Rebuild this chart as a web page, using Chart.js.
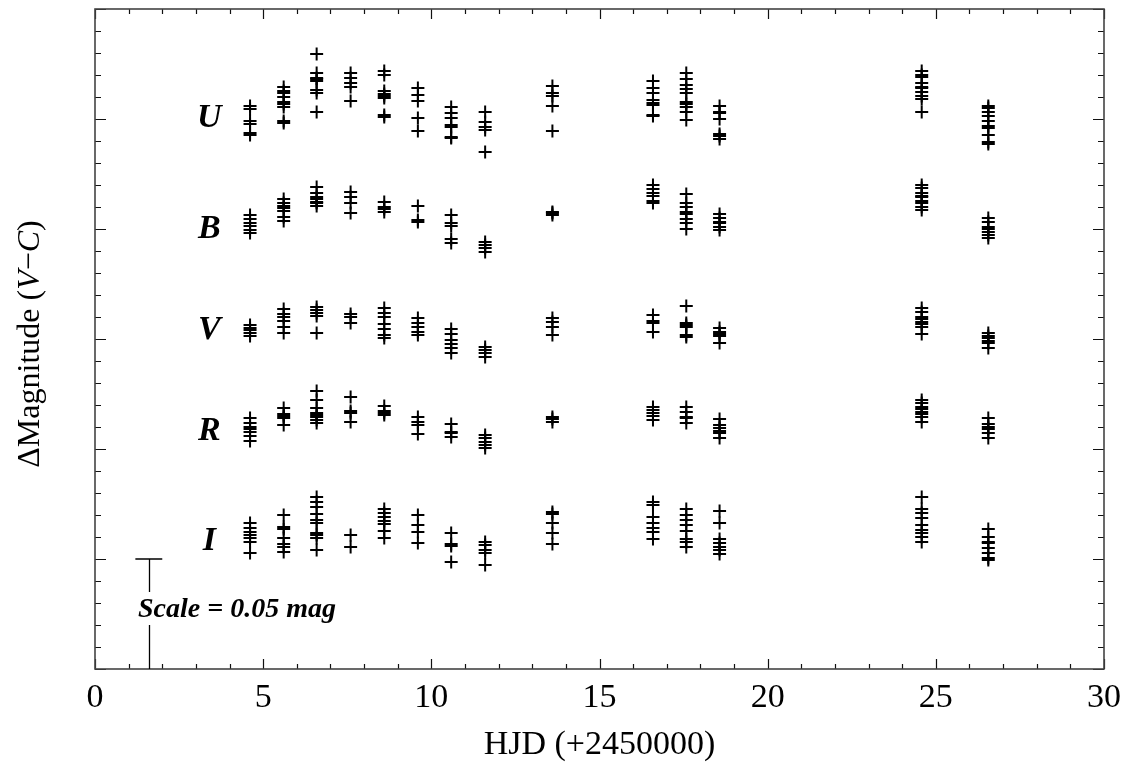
<!DOCTYPE html>
<html>
<head>
<meta charset="utf-8">
<script src="https://cdn.jsdelivr.net/npm/chart.js@4.4.1/dist/chart.umd.min.js"></script>
<style>
html, body { margin: 0; padding: 0; background: #fff; }
#wrap { width: 1126px; height: 765px; }
</style>
</head>
<body>
<div id="wrap"><canvas id="lc"></canvas></div>
<script>
// HJD - 2450000 of each observing night
const nights = [4.61, 5.61, 6.59, 7.60, 8.60, 9.60, 10.59, 11.60, 13.60, 16.59, 17.58, 18.57, 24.58, 26.56];

// plotted differential magnitudes (bands offset for clarity), one list per night
const magU = [
  [0.0441, 0.0455, 0.0509, 0.0523, 0.0564, 0.0573],
  [0.0355, 0.0373, 0.0382, 0.0400, 0.0423, 0.0432, 0.0445, 0.0509, 0.0518],
  [0.0205, 0.0291, 0.0314, 0.0318, 0.0327, 0.0368, 0.0382, 0.0468],
  [0.0291, 0.0314, 0.0336, 0.0355, 0.0418],
  [0.0282, 0.0300, 0.0373, 0.0386, 0.0395, 0.0405, 0.0482, 0.0491],
  [0.0359, 0.0391, 0.0418, 0.0495, 0.0555],
  [0.0445, 0.0473, 0.0495, 0.0527, 0.0536, 0.0582, 0.0586],
  [0.0468, 0.0514, 0.0536, 0.0550, 0.0650],
  [0.0350, 0.0382, 0.0395, 0.0441, 0.0555],
  [0.0327, 0.0359, 0.0382, 0.0414, 0.0427, 0.0436, 0.0482, 0.0486],
  [0.0291, 0.0318, 0.0345, 0.0364, 0.0382, 0.0423, 0.0432, 0.0445, 0.0468, 0.0505],
  [0.0441, 0.0468, 0.0473, 0.0500, 0.0568, 0.0577, 0.0591],
  [0.0282, 0.0300, 0.0309, 0.0336, 0.0355, 0.0359, 0.0377, 0.0395, 0.0409, 0.0468],
  [0.0441, 0.0450, 0.0468, 0.0486, 0.0509, 0.0532, 0.0541, 0.0573, 0.0605, 0.0614]
];
const magB = [
  [0.0936, 0.0955, 0.0973, 0.0986, 0.1005, 0.1018],
  [0.0864, 0.0882, 0.0895, 0.0905, 0.0918, 0.0945, 0.0964],
  [0.0809, 0.0836, 0.0855, 0.0864, 0.0877, 0.0882, 0.0895],
  [0.0832, 0.0855, 0.0882, 0.0927],
  [0.0877, 0.0900, 0.0909, 0.0923],
  [0.0895, 0.0959, 0.0968],
  [0.0936, 0.0973, 0.0986, 0.1045, 0.1064],
  [0.1059, 0.1073, 0.1086, 0.1105],
  [0.0923, 0.0927, 0.0936],
  [0.0800, 0.0818, 0.0836, 0.0850, 0.0873, 0.0882],
  [0.0841, 0.0882, 0.0900, 0.0923, 0.0932, 0.0955, 0.0973, 0.1000],
  [0.0932, 0.0950, 0.0968, 0.0973, 0.0991, 0.1005],
  [0.0800, 0.0814, 0.0836, 0.0850, 0.0855, 0.0873, 0.0882, 0.0900, 0.0914],
  [0.0950, 0.0968, 0.0991, 0.1000, 0.1014, 0.1027, 0.1041]
];
const magV = [
  [0.1436, 0.1450, 0.1459, 0.1473, 0.1486],
  [0.1364, 0.1386, 0.1400, 0.1418, 0.1445, 0.1473],
  [0.1355, 0.1368, 0.1382, 0.1395, 0.1473],
  [0.1386, 0.1400, 0.1427],
  [0.1359, 0.1382, 0.1400, 0.1432, 0.1455, 0.1482, 0.1495],
  [0.1405, 0.1427, 0.1445, 0.1468, 0.1482],
  [0.1455, 0.1477, 0.1505, 0.1523, 0.1541, 0.1564],
  [0.1536, 0.1550, 0.1564, 0.1582],
  [0.1405, 0.1423, 0.1445, 0.1482],
  [0.1391, 0.1418, 0.1427, 0.1468],
  [0.1350, 0.1427, 0.1436, 0.1445, 0.1482, 0.1491],
  [0.1450, 0.1468, 0.1477, 0.1486, 0.1518],
  [0.1359, 0.1377, 0.1400, 0.1409, 0.1423, 0.1432, 0.1445, 0.1477],
  [0.1473, 0.1486, 0.1495, 0.1509, 0.1518, 0.1541]
];
const magR = [
  [0.1859, 0.1882, 0.1900, 0.1909, 0.1923, 0.1941, 0.1964],
  [0.1814, 0.1841, 0.1850, 0.1859, 0.1891],
  [0.1736, 0.1777, 0.1814, 0.1836, 0.1845, 0.1855, 0.1868, 0.1882],
  [0.1764, 0.1827, 0.1836, 0.1877],
  [0.1805, 0.1827, 0.1836, 0.1845],
  [0.1855, 0.1877, 0.1891, 0.1932],
  [0.1886, 0.1923, 0.1927, 0.1945],
  [0.1936, 0.1950, 0.1968, 0.1982, 0.1995],
  [0.1855, 0.1864, 0.1877],
  [0.1809, 0.1823, 0.1836, 0.1850, 0.1868],
  [0.1809, 0.1832, 0.1855, 0.1859, 0.1882],
  [0.1864, 0.1891, 0.1905, 0.1918, 0.1927, 0.1950],
  [0.1777, 0.1791, 0.1809, 0.1818, 0.1832, 0.1841, 0.1855, 0.1877],
  [0.1859, 0.1886, 0.1900, 0.1909, 0.1927, 0.1950]
];
const magI = [
  [0.2336, 0.2359, 0.2377, 0.2391, 0.2405, 0.2423, 0.2473],
  [0.2300, 0.2355, 0.2364, 0.2405, 0.2432, 0.2445, 0.2468],
  [0.2218, 0.2241, 0.2264, 0.2295, 0.2323, 0.2336, 0.2382, 0.2391, 0.2405, 0.2459],
  [0.2391, 0.2445],
  [0.2273, 0.2291, 0.2309, 0.2327, 0.2341, 0.2373, 0.2405],
  [0.2300, 0.2345, 0.2377, 0.2427],
  [0.2382, 0.2432, 0.2441, 0.2514],
  [0.2423, 0.2436, 0.2459, 0.2473, 0.2527],
  [0.2286, 0.2295, 0.2336, 0.2382, 0.2432],
  [0.2241, 0.2255, 0.2309, 0.2336, 0.2359, 0.2377, 0.2409],
  [0.2273, 0.2300, 0.2323, 0.2345, 0.2373, 0.2409, 0.2423, 0.2445],
  [0.2282, 0.2336, 0.2409, 0.2427, 0.2445, 0.2459, 0.2477],
  [0.2218, 0.2273, 0.2291, 0.2314, 0.2345, 0.2368, 0.2382, 0.2400, 0.2423],
  [0.2364, 0.2400, 0.2423, 0.2427, 0.2450, 0.2473, 0.2495, 0.2505]
];

const bandNames = ['U', 'B', 'V', 'R', 'I'];
const bandMags = [magU, magB, magV, magR, magI];
const xTicks = [0, 5, 10, 15, 20, 25, 30];

const SERIF = '"Liberation Serif", "DejaVu Serif", serif';

function toPoints(mags) {
  const pts = [];
  mags.forEach((list, i) => {
    list.forEach(m => pts.push({ x: nights[i], y: m }));
  });
  return pts;
}

const datasets = bandNames.map((name, k) => ({
  label: name,
  data: toPoints(bandMags[k]),
  showLine: false,
  pointStyle: 'cross',
  pointRadius: 6.5,
  pointBorderWidth: 2,
  borderColor: '#000',
  backgroundColor: '#000'
}));

// frame with inward ticks on all four sides, band letters, scale bar, y title
const decorPlugin = {
  id: 'decor',
  afterDatasetsDraw(chart) {
    const ctx = chart.ctx;
    const a = chart.chartArea;
    const xs = chart.scales.x;
    const ys = chart.scales.y;
    ctx.save();

    ctx.strokeStyle = '#111';
    ctx.lineWidth = 1.2;
    ctx.beginPath();
    for (let v = 0; v <= 30; v++) {
      const px = Math.round(xs.getPixelForValue(v)) + 0.5;
      const len = v % 5 === 0 ? 10 : 5;
      ctx.moveTo(px, a.bottom); ctx.lineTo(px, a.bottom - len);
      ctx.moveTo(px, a.top); ctx.lineTo(px, a.top + len);
    }
    for (let i = 0; i <= 30; i++) {
      const py = Math.round(ys.getPixelForValue(i / 100)) + 0.5;
      const len = i % 5 === 0 ? 11 : 6;
      ctx.moveTo(a.left, py); ctx.lineTo(a.left + len, py);
      ctx.moveTo(a.right, py); ctx.lineTo(a.right - len, py);
    }
    ctx.stroke();

    ctx.strokeStyle = '#444';
    ctx.lineWidth = 1.6;
    ctx.strokeRect(a.left, a.top, a.right - a.left, a.bottom - a.top);

    // band letters
    const labelY = [0.0495, 0.1000, 0.1460, 0.1920, 0.2420];
    ctx.fillStyle = '#000';
    ctx.font = 'italic bold 34px ' + SERIF;
    ctx.textAlign = 'center';
    ctx.textBaseline = 'middle';
    bandNames.forEach((n, k) => {
      ctx.fillText(n, xs.getPixelForValue(3.4), ys.getPixelForValue(labelY[k]));
    });

    // scale bar: 0.05 mag
    const bx = Math.round(xs.getPixelForValue(1.6)) + 0.5;
    const yTop = ys.getPixelForValue(0.25);
    const yBot = ys.getPixelForValue(0.30);
    ctx.strokeStyle = '#000';
    ctx.lineWidth = 1.3;
    ctx.beginPath();
    ctx.moveTo(xs.getPixelForValue(1.2), yTop); ctx.lineTo(xs.getPixelForValue(2.0), yTop);
    ctx.moveTo(bx, yTop); ctx.lineTo(bx, yTop + 33);
    ctx.moveTo(bx, yTop + 66); ctx.lineTo(bx, yBot);
    ctx.stroke();
    ctx.font = 'italic bold 28px ' + SERIF;
    ctx.textAlign = 'left';
    ctx.textBaseline = 'alphabetic';
    ctx.fillText('Scale = 0.05 mag', xs.getPixelForValue(1.28), ys.getPixelForValue(0.2764));

    // y axis title with italic V and C
    const parts = [
      ['\u0394Magnitude (', ''],
      ['V', 'italic '],
      ['\u2212', ''],
      ['C', 'italic '],
      [')', '']
    ];
    ctx.translate(31, (a.top + a.bottom) / 2 + 5);
    ctx.rotate(-Math.PI / 2);
    let total = 0;
    parts.forEach(p => { ctx.font = p[1] + '32px ' + SERIF; total += ctx.measureText(p[0]).width; });
    let cx = -total / 2;
    ctx.textBaseline = 'middle';
    parts.forEach(p => {
      ctx.font = p[1] + '32px ' + SERIF;
      ctx.fillText(p[0], cx, 0);
      cx += ctx.measureText(p[0]).width;
    });
    ctx.restore();
  }
};

const ctx = document.getElementById('lc').getContext('2d');
new Chart(ctx, {
  type: 'scatter',
  data: { datasets: datasets },
  options: {
    responsive: true,
    maintainAspectRatio: false,
    animation: false,
    layout: { padding: { top: 9, right: 22, left: 0, bottom: 0 } },
    plugins: { legend: { display: false }, tooltip: { enabled: false } },
    scales: {
      x: {
        type: 'linear',
        min: 0,
        max: 30,
        afterBuildTicks: s => { s.ticks = xTicks.map(v => ({ value: v })); },
        afterFit: s => { s.height = 96; s.paddingRight = 0; s.paddingLeft = 0; },
        grid: { display: false, drawTicks: false },
        border: { display: false },
        ticks: { color: '#000', font: { family: SERIF, size: 34 }, padding: 9, maxRotation: 0 },
        title: {
          display: true,
          text: 'HJD (+2450000)',
          color: '#000',
          font: { family: SERIF, size: 34 },
          padding: { top: 0, bottom: 0 }
        }
      },
      y: {
        type: 'linear',
        reverse: true,
        min: 0,
        max: 0.30,
        afterFit: s => { s.width = 95; },
        grid: { display: false, drawTicks: false },
        border: { display: false },
        ticks: { display: false }
      }
    }
  },
  plugins: [decorPlugin]
});
</script>
</body>
</html>
